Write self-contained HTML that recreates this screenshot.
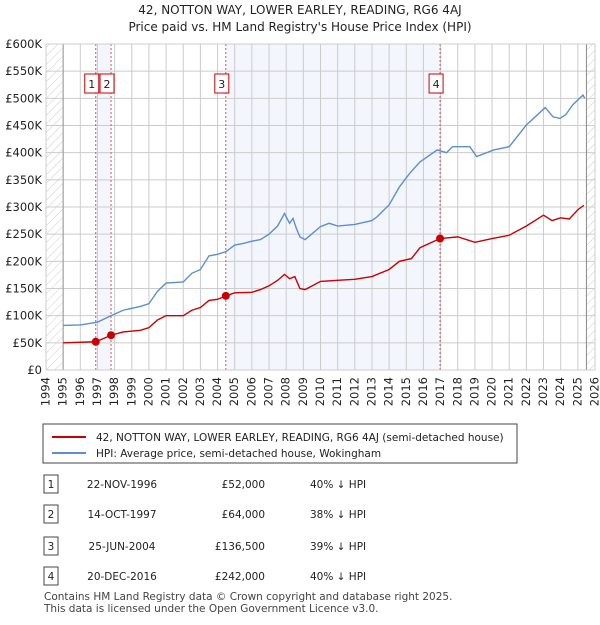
<!DOCTYPE html>
<html><head><meta charset="utf-8"><style>
body{margin:0;background:#fff;font-family:"Liberation Sans","DejaVu Sans",sans-serif;}
svg text{font-family:"DejaVu Sans","Liberation Sans",sans-serif;}
</style></head><body>
<svg id="c" width="600" height="620" xmlns="http://www.w3.org/2000/svg">
<defs><pattern id="hatch" width="6" height="6" patternUnits="userSpaceOnUse" patternTransform="rotate(45)"><line x1="0" y1="0" x2="0" y2="6" stroke="#ccc" stroke-width="1"/></pattern></defs>
<text x="300" y="14" text-anchor="middle" font-size="12" fill="#222">42, NOTTON WAY, LOWER EARLEY, READING, RG6 4AJ</text>
<text x="300" y="31" text-anchor="middle" font-size="12" fill="#222">Price paid vs. HM Land Registry's House Price Index (HPI)</text>
<g id="plot"></g>
<g>
<rect x="43" y="424" width="474" height="39" fill="#fff" stroke="#444"/>
<line x1="52" y1="437" x2="86" y2="437" stroke="#cc0000" stroke-width="2"/>
<text x="96" y="441" font-size="10.5" fill="#222">42, NOTTON WAY, LOWER EARLEY, READING, RG6 4AJ (semi-detached house)</text>
<line x1="52" y1="453" x2="86" y2="453" stroke="#5b8fd0" stroke-width="2"/>
<text x="96" y="457" font-size="10.5" fill="#222">HPI: Average price, semi-detached house, Wokingham</text>
</g>
<g id="table" font-size="10.5" fill="#222"></g>
<text x="44" y="600" font-size="10.5" fill="#444">Contains HM Land Registry data © Crown copyright and database right 2025.</text>
<text x="44" y="612" font-size="10.5" fill="#444">This data is licensed under the Open Government Licence v3.0.</text>
</svg>
<script>
const hpiYears=[1995,1996,1997,1997.8,1998.5,1999.5,2000,2000.5,2001,2002,2002.5,2003,2003.5,2004,2004.5,2005,2005.5,2006,2006.5,2007,2007.5,2007.9,2008.2,2008.4,2008.6,2008.8,2009.1,2010,2010.5,2011,2012,2013,2013.3,2014,2014.6,2015.2,2015.8,2016.8,2017.35,2017.7,2018.7,2019.1,2020.1,2021,2022,2023.1,2023.55,2023.95,2024.3,2024.7,2025.3,2025.4];
const hpiValues=[82,83,88,100,110,117,122,145,160,162,178,185,210,213,218,230,233,237,240,250,265,288,270,279,260,245,240,264,270,265,268,275,282,304,337,362,383,405,400,411,411,393,405,411,451,483,466,463,470,488,506,500];
const ppYears=[1995,1996.9,1997.8,1998.5,1999.5,2000,2000.5,2001,2002,2002.5,2003,2003.5,2004,2004.5,2005,2006,2006.5,2007,2007.5,2007.9,2008.2,2008.5,2008.8,2009.1,2010,2011,2012,2013,2014,2014.6,2015.3,2015.8,2016.97,2018,2019,2020,2021,2022,2023,2023.5,2024,2024.5,2025,2025.35];
const ppValues=[50,52,64,70,73,78,92,100,100,110,115,128,130,136.5,142,143,148,155,165,176,168,172,150,148,163,165,167,172,185,200,205,225,242,245,235,242,248,265,285,275,280,278,295,303];
const saleYears=[1996.9,1997.79,2004.48,2016.97];
const salePrices=[52,64,136.5,242];
const saleLabels=["1","2","3","4"];
const saleDates=["22-NOV-1996","14-OCT-1997","25-JUN-2004","20-DEC-2016"];
const salePriceText=["£52,000","£64,000","£136,500","£242,000"];
const saleHpiText=["40% ↓ HPI","38% ↓ HPI","39% ↓ HPI","40% ↓ HPI"];
const yTicks=[0,50,100,150,200,250,300,350,400,450,500,550,600];
const xTicks=[];for(let y=1994;y<=2026;y++)xTicks.push(y);

const L=46,R=595,T=44,B=370;
const X=y=>L+(y-1994)*(R-L)/32;
const Y=v=>B-v*(B-T)/600;
const NS="http://www.w3.org/2000/svg";
const plot=document.getElementById('plot');
function mk(tag,attrs,parent){const e=document.createElementNS(NS,tag);for(const k in attrs)e.setAttribute(k,attrs[k]);(parent||plot).appendChild(e);return e;}

let e;
e=mk('rect',{x:L,y:T,width:R-L,height:B-T,fill:'#fff'});


e=mk('rect',{x:X(saleYears[0]),y:T,width:X(saleYears[1])-X(saleYears[0]),height:B-T,fill:'#f3f6fd'});


e=mk('rect',{x:X(saleYears[2]),y:T,width:X(saleYears[3])-X(saleYears[2]),height:B-T,fill:'#f3f6fd'});


e=mk('rect',{x:L,y:T,width:X(1995)-L,height:B-T,fill:'url(#hatch)'});


e=mk('rect',{x:X(2025.5),y:T,width:R-X(2025.5),height:B-T,fill:'url(#hatch)'});


xTicks.forEach(t=>{
 e=mk('line',{x1:X(t),x2:X(t),y1:T,y2:B,stroke:'#ccc','stroke-width':1});
 
 
 e=mk('text',{x:X(t),y:B+7,'font-size':11.5,fill:'#222','text-anchor':'end',transform:`rotate(-90 ${X(t)} ${B+7})`,'dominant-baseline':'middle'});
 e.textContent=t;
 
 
});
yTicks.forEach(t=>{
 e=mk('line',{x1:L,x2:R,y1:Y(t),y2:Y(t),stroke:'#ccc','stroke-width':1});
 
 
 e=mk('text',{x:L-4,y:Y(t)+4,'font-size':11.5,fill:'#222','text-anchor':'end'});
 e.textContent=t===0?'£0':'£'+t+'K';
 
 
});
e=mk('line',{x1:X(1995),x2:X(1995),y1:T,y2:B,stroke:'#999'});


e=mk('line',{x1:X(2025.5),x2:X(2025.5),y1:T,y2:B,stroke:'#888'});


saleYears.forEach((s,i)=>{
 e=mk('line',{x1:X(s),x2:X(s),y1:T,y2:B,stroke:'#e05050','stroke-dasharray':'2,2'});
 
 
});
e=mk('path',{d:hpiYears.map((y,i)=>(i?'L':'M')+X(y)+' '+Y(hpiValues[i])).join(''),fill:'none',stroke:'#5b8fd0','stroke-width':1.4});


e=mk('path',{d:ppYears.map((y,i)=>(i?'L':'M')+X(y)+' '+Y(ppValues[i])).join(''),fill:'none',stroke:'#cc0000','stroke-width':1.4});


saleYears.forEach((s,i)=>{
 e=mk('circle',{cx:X(s),cy:Y(salePrices[i]),r:4,fill:'#cc0000'});
 
 
 const bx=X(s)-11;
 e=mk('rect',{x:bx,y:74,width:14,height:19,fill:'#fff',stroke:'#cc0000'});
 
 
 e=mk('text',{x:bx+7,y:88,'font-size':11,fill:'#222','text-anchor':'middle'});
 e.textContent=saleLabels[i];
 
 
});
e=mk('rect',{x:L,y:T,width:R-L,height:B-T,fill:'none',stroke:'#ccc'});



const tb=document.getElementById('table');
const rowY=[484,514,546,576];
rowY.forEach((ry,i)=>{
 e=mk('rect',{x:44,y:ry-9,width:14,height:18,fill:'#fff',stroke:'#444'},tb);
 
 
 e=mk('text',{x:51,y:ry+4,'text-anchor':'middle'},tb);e.textContent=saleLabels[i];
 
 
 e=mk('text',{x:122,y:ry+4,'text-anchor':'middle'},tb);e.textContent=saleDates[i];
 
 
 e=mk('text',{x:265,y:ry+4,'text-anchor':'end'},tb);e.textContent=salePriceText[i];
 
 
 e=mk('text',{x:310,y:ry+4},tb);e.textContent=saleHpiText[i];
 
 
});
</script>
</body></html>
